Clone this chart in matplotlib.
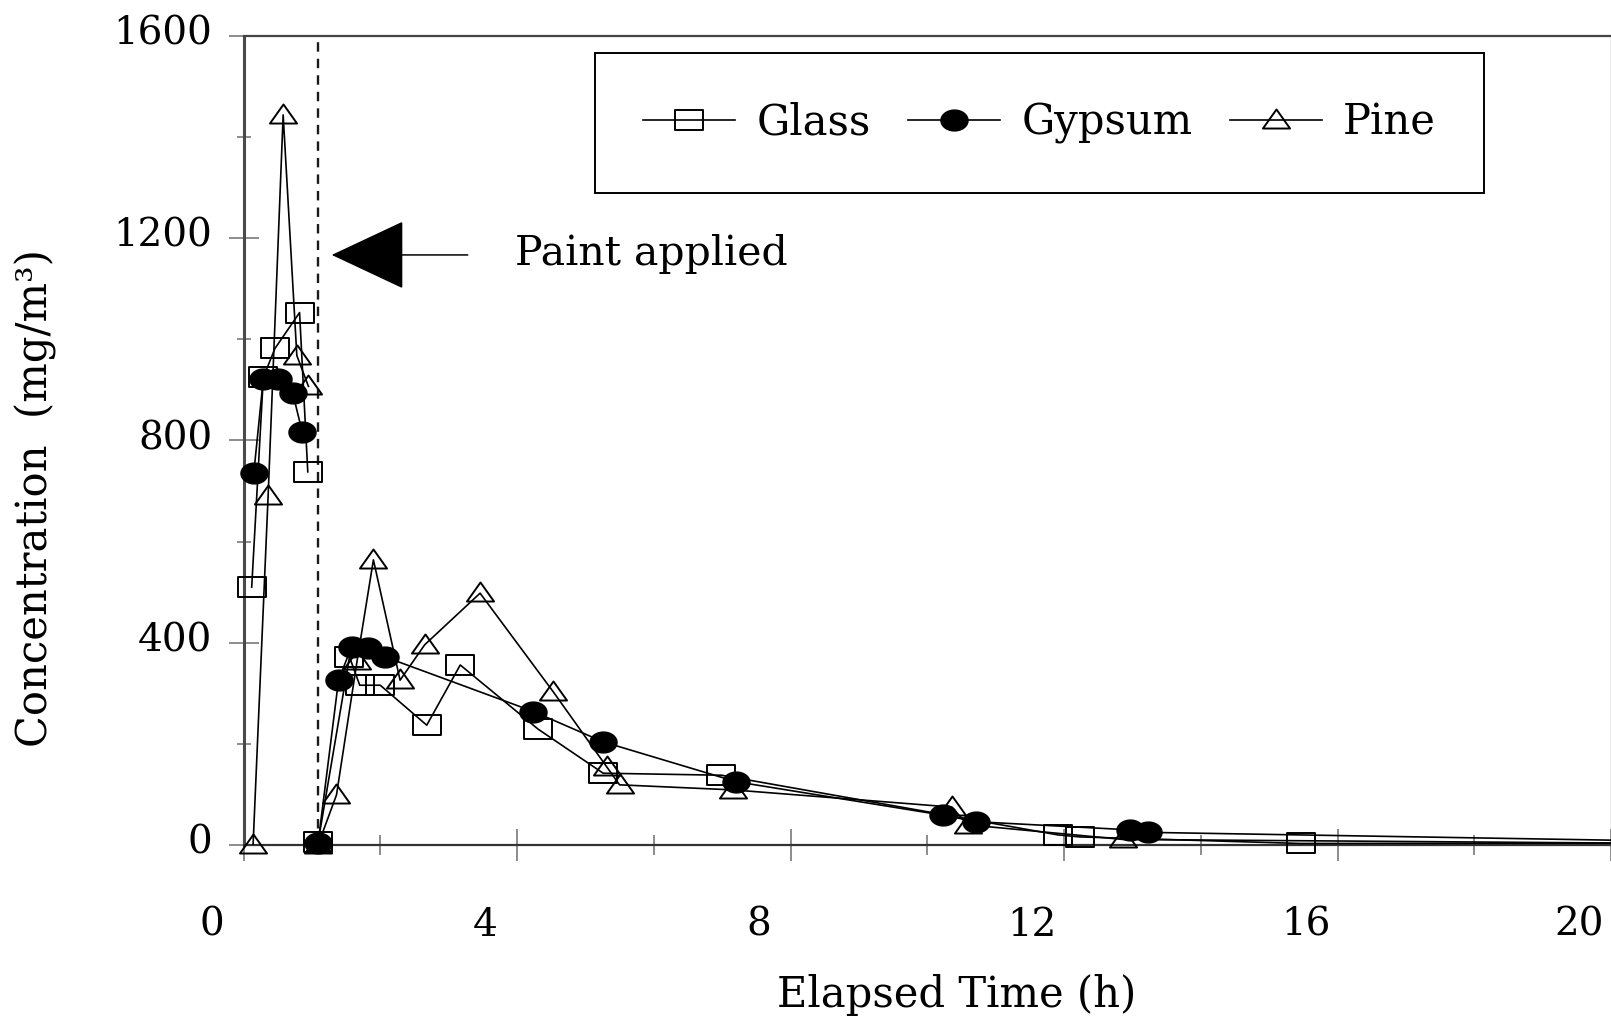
import matplotlib
matplotlib.use("Agg")
import matplotlib.pyplot as plt
import matplotlib.transforms as mtransforms
from matplotlib.path import Path
from matplotlib.lines import Line2D
import numpy as np

# ---- data (NaN separates the run before and after painting) ----------
glass_t = [0.12, 0.29, 0.46, 0.82, 0.94, np.nan,
           1.09, 1.55, 1.70, 2.00, 2.68, 3.17, 4.31, 5.26, 6.99,
           11.91, 12.23, 15.46, 22.0]
glass_c = [510, 925, 982, 1053, 738, np.nan,
           5, 372, 316, 316, 237, 356, 229, 142, 138,
           20, 16, 3, 4]

gypsum_t = [0.15, 0.29, 0.50, 0.72, 0.86, np.nan,
            1.09, 1.39, 1.58, 1.82, 2.07, 4.24, 5.26, 7.21,
            10.23, 10.72, 12.96, 13.23, 22.0]
gypsum_c = [735, 922, 922, 894, 816, np.nan,
            3, 326, 392, 389, 372, 264, 204, 125,
            59, 46, 30, 25, 5]

pine_t = [0.14, 0.36, 0.58, 0.78, 0.95, np.nan,
          1.09, 1.36, 1.66, 1.90, 2.29, 2.65, 3.46, 4.53, 5.31, 5.50,
          7.16, 10.36, 10.59, 12.86, 22.0]
pine_c = [0, 690, 1444, 968, 907, np.nan,
          0, 99, 363, 564, 326, 396, 498, 303, 155, 119,
          109, 75, 40, 11, 2]

paint_time = 1.085
arrow_tip = (1.29, 1167)
arrow_tail = (3.28, 1167)

x_ticks = [0, 4, 8, 12, 16, 20]
y_ticks = [0, 400, 800, 1200, 1600]

# ---- style ------------------------------------------------------------
plt.rcParams['font.family'] = ['DejaVu Serif']

fig = plt.figure(figsize=(16.11, 10.21), dpi=100)
ax = fig.add_axes([243.5 / 1611, 176 / 1021, 1 - 243.5 / 1611, (845 - 36) / 1021])
X_MAX = 20

# horizontally stretched marker shapes
sq = Path([(-1.3, -1), (1.3, -1), (1.3, 1), (-1.3, 1), (-1.3, -1)],
          [Path.MOVETO, Path.LINETO, Path.LINETO, Path.LINETO, Path.CLOSEPOLY])
th = np.linspace(0, 2 * np.pi, 60)
ell = Path(np.column_stack([1.3 * np.cos(th), np.sin(th)]), closed=True)
tri = Path([(-1.35, -0.8), (1.35, -0.8), (0, 1.1), (-1.35, -0.8)],
           [Path.MOVETO, Path.LINETO, Path.LINETO, Path.CLOSEPOLY])

lw = 1.2
series = [
    (glass_t, glass_c, dict(marker=sq, markersize=19.5, markerfacecolor='none',
                            markeredgewidth=1.4)),
    (gypsum_t, gypsum_c, dict(marker=ell, markersize=19.5, markerfacecolor='black',
                              markeredgewidth=1.0)),
    (pine_t, pine_c, dict(marker=tri, markersize=19.5, markerfacecolor='none',
                          markeredgewidth=1.4)),
]
for t, c, mk in series:
    t = np.asarray(t, dtype=float)
    c = np.asarray(c, dtype=float)
    # connecting lines stay inside the axes
    ax.plot(t, c, color='black', lw=lw, zorder=3)
    # markers may hang over the x axis
    inside = ~(t > X_MAX)
    ax.plot(t[inside], c[inside], linestyle='none', markeredgecolor='black',
            clip_on=False, zorder=3, **mk)

# paint application marker line and arrow
ax.axvline(paint_time, color='#1a1a1a', lw=1.7, linestyle=(0, (4, 3)), zorder=2)
ax.annotate('', xy=arrow_tip, xytext=arrow_tail,
            arrowprops=dict(arrowstyle='-|>,head_length=49,head_width=23',
                            mutation_scale=1, lw=1.1, color='black',
                            shrinkA=0, shrinkB=0))
ax.text(3.97, 1147, 'Paint applied', fontsize=29.5, ha='left', va='baseline')

# ---- axes -------------------------------------------------------------
ax.set_xlim(0, X_MAX)
ax.set_ylim(0, 1600)
ax.set_xticks(x_ticks)
ax.set_xticks(np.arange(2, 20, 4), minor=True)
ax.set_yticks(y_ticks)
ax.set_yticks(np.arange(200, 1600, 400), minor=True)
ax.set_xticklabels([str(v) for v in x_ticks])
ax.set_yticklabels([str(v) for v in y_ticks])

tick_col = '#8c8c8c'
ax.tick_params(axis='x', which='major', direction='inout', length=23, width=1.4,
               color=tick_col, labelsize=28, pad=33)
ax.tick_params(axis='x', which='minor', direction='inout', length=15, width=1.4,
               color=tick_col)
ax.tick_params(axis='y', which='major', direction='inout', length=21.6, width=1.4,
               color=tick_col, labelsize=28, pad=11.5)
ax.tick_params(axis='y', which='minor', direction='inout', length=9.4, width=1.4,
               color=tick_col)

for lbl in ax.get_xticklabels():
    lbl.set_horizontalalignment('center')
    lbl.set_transform(lbl.get_transform() +
                      mtransforms.ScaledTranslation(-32 / 100, 0, fig.dpi_scale_trans))
for lbl in ax.get_yticklabels():
    lbl.set_transform(lbl.get_transform() +
                      mtransforms.ScaledTranslation(0, 6 / 100, fig.dpi_scale_trans))

ax.spines['left'].set_color('#4a4a4a')
ax.spines['left'].set_linewidth(2.2)
ax.spines['bottom'].set_color('#333333')
ax.spines['bottom'].set_linewidth(1.6)
ax.spines['top'].set_color('#444444')
ax.spines['top'].set_linewidth(1.6)
ax.spines['right'].set_color('#999999')
ax.spines['right'].set_linewidth(1.0)

fig.text(956.5 / 1611, 1 - 994.5 / 1021, 'Elapsed Time (h)', fontsize=30,
         ha='center', va='center')
fig.text(36 / 1611, 1 - 498 / 1021, 'Concentration  (mg/m³)', fontsize=30,
         rotation=90, ha='center', va='center')

# ---- legend -----------------------------------------------------------
handles = [
    Line2D([], [], color='black', lw=lw, marker=sq, markersize=19.5,
           markerfacecolor='none', markeredgecolor='black', markeredgewidth=1.4),
    Line2D([], [], color='black', lw=lw, marker=ell, markersize=19.5,
           markerfacecolor='black', markeredgecolor='black'),
    Line2D([], [], color='black', lw=lw, marker=tri, markersize=19.5,
           markerfacecolor='none', markeredgecolor='black', markeredgewidth=1.4),
]
leg = fig.legend(handles, ['Glass', 'Gypsum', 'Pine'], loc='center',
                 bbox_to_anchor=(1039.5 / 1611, 1 - 123 / 1021), ncol=3,
                 fontsize=30, frameon=True, fancybox=False, shadow=False,
                 framealpha=1, edgecolor='black', borderpad=1.16,
                 handlelength=2.2, handletextpad=0.52, columnspacing=0.9,
                 markerscale=1.0)
leg.get_frame().set_linewidth(1.4)

fig.savefig('out.png', dpi=100)
